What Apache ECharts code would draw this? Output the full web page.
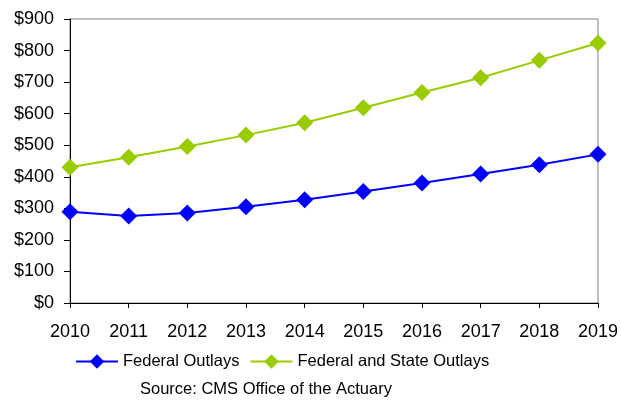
<!DOCTYPE html>
<html>
<head>
    <meta charset="utf-8" />
    <title>Outlays</title>
    <script src="https://cdn.jsdelivr.net/npm/echarts@6/dist/echarts.min.js"></script>
    <style>
        html, body { margin: 0; padding: 0; background: #fff; }
        #chart { width: 621px; height: 400px; }
    </style>
</head>
<body>
    <div id="chart"></div>
    <script>
        // data
        var years = ['2010', '2011', '2012', '2013', '2014', '2015', '2016', '2017', '2018', '2019'];
        var federal = [289, 276, 285, 305, 327, 353, 380, 409, 438, 471];
        var federalState = [430, 462, 496, 532, 571, 619, 667, 714, 769, 824];

        var font = 'Liberation Sans, Arial, sans-serif';

        var chart = echarts.init(document.getElementById('chart'));
        chart.setOption({
            animation: false,
            textStyle: { fontFamily: font },
            title: {
                text: 'Source: CMS Office of the Actuary',
                left: 135,
                top: 376,
                textStyle: { fontSize: 16.5, fontWeight: 'normal', color: '#000', fontFamily: font }
            },
            legend: {
                top: 348,
                left: 70,
                itemWidth: 42,
                itemHeight: 18,
                itemGap: 10,
                textStyle: { fontSize: 16.5, color: '#000', fontFamily: font },
                data: ['Federal Outlays', 'Federal and State Outlays']
            },
            grid: { left: 70, right: 22, top: 19, bottom: 97, show: true, borderColor: '#808080', borderWidth: 1 },
            xAxis: {
                type: 'category',
                data: years,
                boundaryGap: false,
                axisLine: { lineStyle: { color: '#000', width: 1 } },
                axisTick: { show: true, inside: false, length: 5, lineStyle: { color: '#000' }, interval: 0 },
                axisLabel: { color: '#000', fontSize: 18, margin: 20, interval: 0 },
                splitLine: { show: false }
            },
            yAxis: {
                type: 'value',
                min: 0,
                max: 900,
                interval: 100,
                axisLine: { show: true, lineStyle: { color: '#000' } },
                axisTick: { show: true, length: 6, lineStyle: { color: '#000' } },
                axisLabel: { color: '#000', fontSize: 18, margin: 16, formatter: '${value}' },
                splitLine: { show: false }
            },
            series: [
                {
                    name: 'Federal Outlays',
                    type: 'line',
                    data: federal,
                    symbol: 'diamond',
                    symbolSize: 17,
                    color: '#0000FF',
                    lineStyle: { width: 2, color: '#0000FF' },
                    itemStyle: { color: '#0000FF' }
                },
                {
                    name: 'Federal and State Outlays',
                    type: 'line',
                    data: federalState,
                    symbol: 'diamond',
                    symbolSize: 17,
                    color: '#99CC00',
                    lineStyle: { width: 2, color: '#99CC00' },
                    itemStyle: { color: '#99CC00' }
                }
            ]
        });
    </script>
</body>
</html>
